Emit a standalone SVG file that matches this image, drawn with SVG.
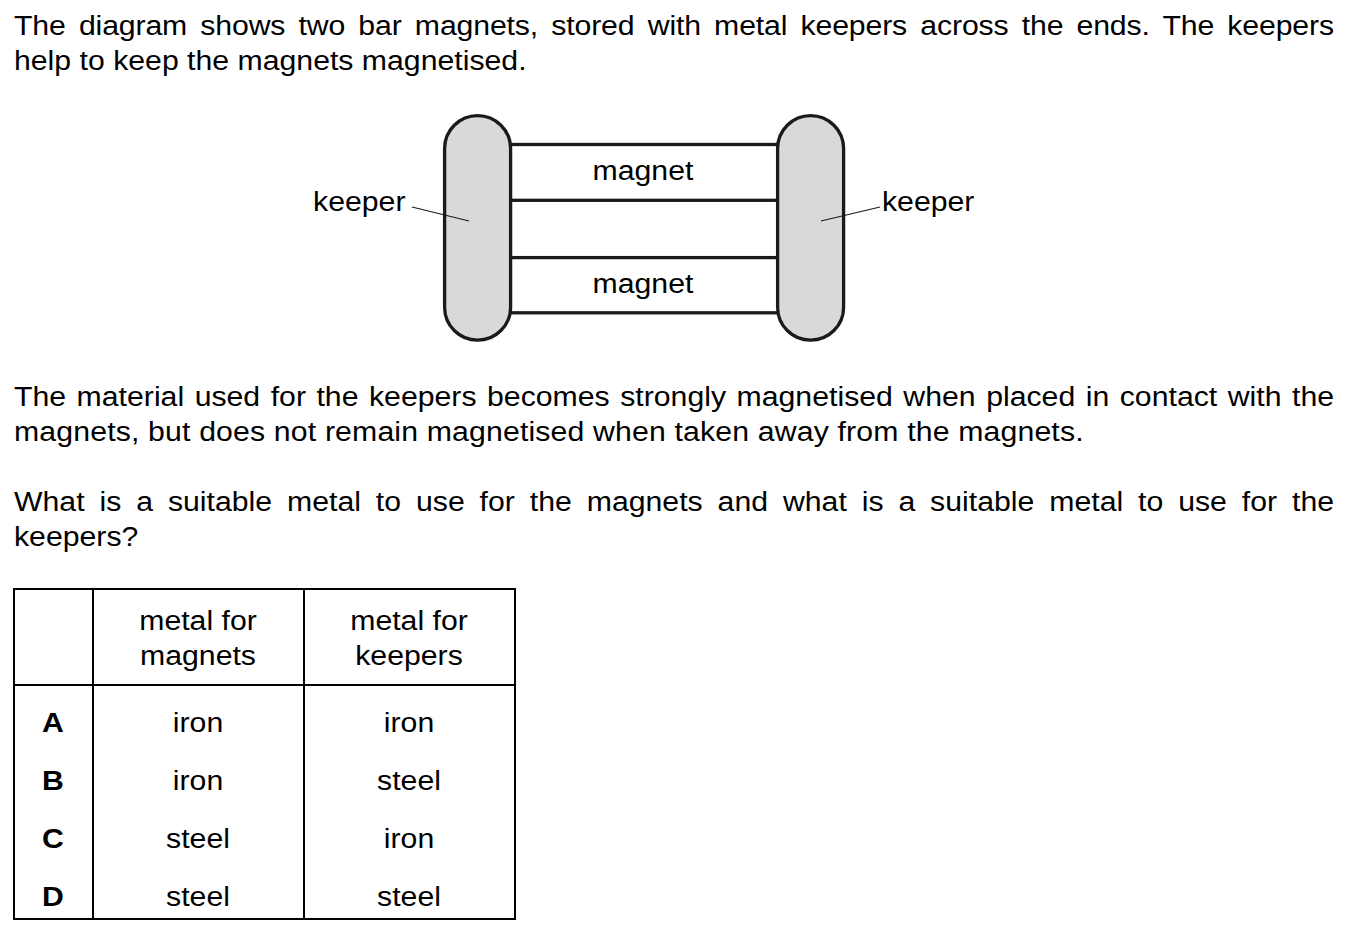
<svg xmlns="http://www.w3.org/2000/svg" width="1351" height="935" viewBox="0 0 1351 935">
<style>
  text { font-family: "Liberation Sans", Arial, sans-serif; font-size: 27px; fill: #000; }
  .c { text-anchor: middle; }
  .b { font-weight: bold; }
  .bar { fill: #fff; stroke: #1a1a1a; stroke-width: 3.3; }
  .keep { fill: #d9d9d9; stroke: #1a1a1a; stroke-width: 3.3; }
  .lead { stroke: #1a1a1a; stroke-width: 1.2; fill: none; }
  .tbl { stroke: #000; stroke-width: 2; fill: none; }
</style>
<rect width="1351" height="935" fill="#fff"/>

<g id="paragraphs" transform="scale(1.12 1)">
  <text x="12.5" y="35" textLength="1178.6" lengthAdjust="spacing" word-spacing="4.43">The diagram shows two bar magnets, stored with metal keepers across the ends. The keepers</text>
  <text x="12.5" y="70">help to keep the magnets magnetised.</text>
  <text x="12.5" y="406" textLength="1178.6" lengthAdjust="spacing" word-spacing="1.86">The material used for the keepers becomes strongly magnetised when placed in contact with the</text>
  <text x="12.5" y="441" textLength="955" lengthAdjust="spacing">magnets, but does not remain magnetised when taken away from the magnets.</text>
  <text x="12.5" y="511" textLength="1178.6" lengthAdjust="spacing" word-spacing="5.79">What is a suitable metal to use for the magnets and what is a suitable metal to use for the</text>
  <text x="12.5" y="546">keepers?</text>
</g>

<g id="magnet-top">
  <rect class="bar" x="505" y="144.5" width="280" height="55.8"/>
  <text class="c" transform="scale(1.12 1)" x="574.1" y="180">magnet</text>
</g>
<g id="magnet-bottom">
  <rect class="bar" x="505" y="257.6" width="280" height="55.2"/>
  <text class="c" transform="scale(1.12 1)" x="574.1" y="293">magnet</text>
</g>
<g id="keeper-left">
  <rect class="keep" x="444.6" y="115.6" width="66" height="224.6" rx="33" ry="33"/>
</g>
<g id="keeper-right">
  <rect class="keep" x="777.6" y="115.6" width="66" height="224.6" rx="33" ry="33"/>
</g>

<g id="connectors">
  <line class="lead" x1="412" y1="207" x2="469" y2="221"/>
  <line class="lead" x1="821" y1="221" x2="880" y2="207"/>
</g>

<g id="label-keeper-left">
  <text transform="scale(1.12 1)" x="279.5" y="211">keeper</text>
</g>
<g id="label-keeper-right">
  <text transform="scale(1.12 1)" x="787.5" y="211">keeper</text>
</g>

<g id="table">
  <rect class="tbl" x="14" y="589" width="501" height="330"/>
  <line class="tbl" x1="93" y1="589" x2="93" y2="919"/>
  <line class="tbl" x1="304" y1="589" x2="304" y2="919"/>
  <line class="tbl" x1="14" y1="685" x2="515" y2="685"/>
  <g transform="scale(1.12 1)">
    <text class="c" x="176.8" y="630">metal for</text>
    <text class="c" x="176.8" y="665">magnets</text>
    <text class="c" x="365.2" y="630">metal for</text>
    <text class="c" x="365.2" y="665">keepers</text>
    <text class="c b" x="47.3" y="732">A</text>
    <text class="c" x="176.8" y="732">iron</text>
    <text class="c" x="365.2" y="732">iron</text>
    <text class="c b" x="47.3" y="790">B</text>
    <text class="c" x="176.8" y="790">iron</text>
    <text class="c" x="365.2" y="790">steel</text>
    <text class="c b" x="47.3" y="848">C</text>
    <text class="c" x="176.8" y="848">steel</text>
    <text class="c" x="365.2" y="848">iron</text>
    <text class="c b" x="47.3" y="906">D</text>
    <text class="c" x="176.8" y="906">steel</text>
    <text class="c" x="365.2" y="906">steel</text>
  </g>
</g>
</svg>
